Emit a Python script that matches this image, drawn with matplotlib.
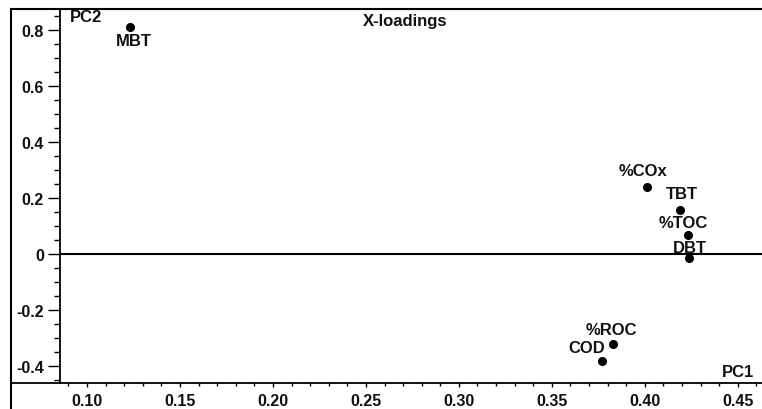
import matplotlib
matplotlib.use("Agg")
import matplotlib.pyplot as plt
from matplotlib.lines import Line2D
from matplotlib.ticker import MultipleLocator, FuncFormatter

plt.rcParams['font.family'] = ['Liberation Sans', 'DejaVu Sans']
plt.rcParams['font.weight'] = 'bold'

# loadings
names = ['MBT', '%COx', 'TBT', '%TOC', 'DBT', '%ROC', 'COD']
pc1 = [0.123, 0.401, 0.419, 0.423, 0.424, 0.383, 0.377]
pc2 = [0.810, 0.239, 0.157, 0.068, -0.014, -0.320, -0.380]
# label offsets in pixels (dx, dy)
offsets = [(4, -13), (-4, 17), (2, 17), (-4, 13), (0, 11), (-2, 14), (-15, 13)]

x_ticks = [0.10, 0.15, 0.20, 0.25, 0.30, 0.35, 0.40, 0.45]
y_ticks = [-0.4, -0.2, 0, 0.2, 0.4, 0.6, 0.8]

fig = plt.figure(figsize=(7.62, 4.10), dpi=100)
ax = fig.add_axes([60 / 762, 1 - 384 / 410, 702 / 762, 374 / 410])

ax.plot(pc1, pc2, 'o', color='black', ms=5.5)
for n, x, y, (dx, dy) in zip(names, pc1, pc2, offsets):
    ax.annotate(n, (x, y), xytext=(dx, dy), textcoords='offset pixels',
                ha='center', va='center', fontsize=12, fontweight='bold',
                color='#111111')

ax.axhline(0, color='black', lw=1.5)

ax.set_xlim(0.0855, 0.463)
ax.set_ylim(-0.46, 0.875)
ax.set_xticks(x_ticks)
ax.set_yticks(y_ticks)
ax.xaxis.set_minor_locator(MultipleLocator(0.01))
ax.yaxis.set_minor_locator(MultipleLocator(0.05))
ax.xaxis.set_major_formatter(FuncFormatter(lambda v, p: '%.2f' % v))
ax.yaxis.set_major_formatter(FuncFormatter(lambda v, p: '0' if abs(v) < 1e-9 else '%.1f' % v))

for s in ['top', 'right']:
    ax.spines[s].set_visible(False)
ax.spines['left'].set_linewidth(1.3)
ax.spines['bottom'].set_linewidth(1.3)
ax.tick_params(axis='y', which='major', length=8.5, width=1, pad=3, labelsize=11.5)
ax.tick_params(axis='y', which='minor', length=4.3, width=1)
ax.tick_params(axis='x', which='major', length=3, width=1, pad=4, labelsize=11.5)
ax.tick_params(axis='x', which='minor', length=2, width=1)
for lab in ax.get_xticklabels() + ax.get_yticklabels():
    lab.set_fontweight('bold')
    lab.set_color('#111111')

ax.text(0.014, 0.979, 'PC2', transform=ax.transAxes, ha='left', va='center',
        fontsize=12, fontweight='bold', color='#111111')
ax.text(0.491, 0.968, 'X-loadings', transform=ax.transAxes, ha='center', va='center',
        fontsize=12, fontweight='bold', color='#111111')
ax.text(0.989, 0.032, 'PC1', transform=ax.transAxes, ha='right', va='center',
        fontsize=12, fontweight='bold', color='#111111')

# outer frame (top and left) and the x axis line running to the frame
fig.add_artist(Line2D([11 / 762, 1], [1 - 10 / 410, 1 - 10 / 410], color='black', lw=1.5))
fig.add_artist(Line2D([11 / 762, 11 / 762], [0, 1 - 10 / 410], color='black', lw=1.5))
fig.add_artist(Line2D([11 / 762, 60 / 762], [1 - 384 / 410, 1 - 384 / 410], color='black', lw=1.3))

fig.savefig('out.png', dpi=100)
